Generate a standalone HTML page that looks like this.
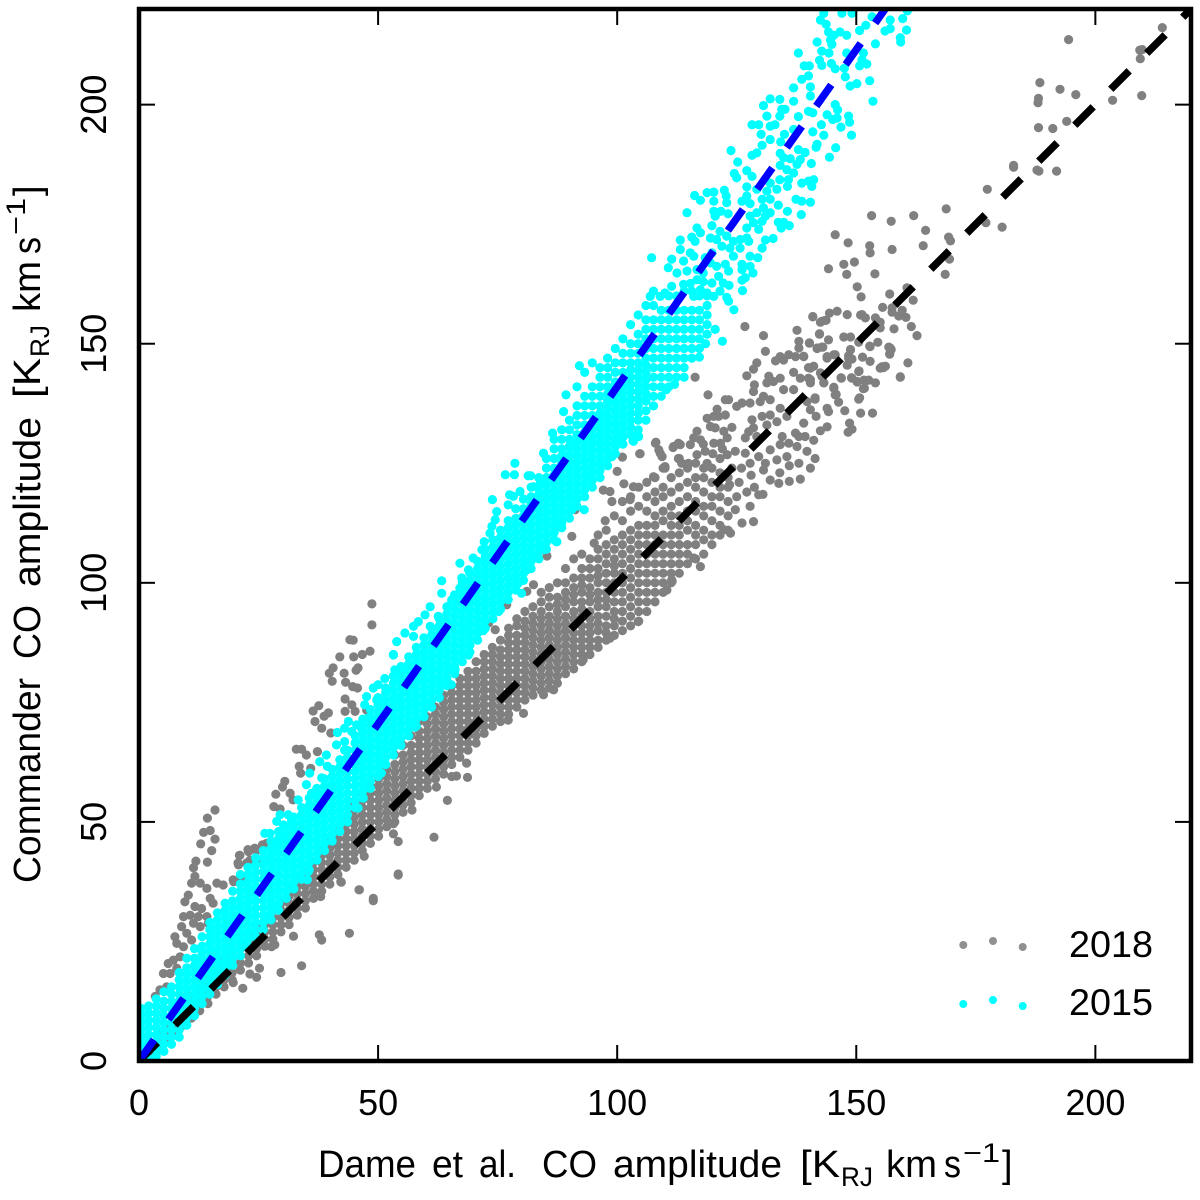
<!DOCTYPE html>
<html lang="en">
<head>
<meta charset="utf-8">
<title>Commander vs Dame CO amplitude</title>
<style>
html,body{margin:0;padding:0;background:#fff;}
svg{display:block;font-family:"Liberation Sans","DejaVu Sans",sans-serif;fill:#000;}
</style>
</head>
<body>
<svg id="chart" width="1200" height="1200" viewBox="0 0 1200 1200" xmlns="http://www.w3.org/2000/svg">
  <defs><clipPath id="plot-clip"><rect x="139" y="9" width="1052" height="1052"/></clipPath></defs>
  <g id="points-layer" clip-path="url(#plot-clip)"></g>
  <g id="lines-layer" clip-path="url(#plot-clip)"></g>
  <g id="ticks-layer"></g>
  <rect x="139" y="9" width="1052" height="1052" fill="none" stroke="#000" stroke-width="4.5"/>
  <g>
    <g>
      <circle cx="963.3" cy="945" r="4" fill="#909090"/><circle cx="993" cy="941" r="4" fill="#909090"/><circle cx="1022.7" cy="947" r="4" fill="#909090"/>
      <text x="1069" y="957" font-size="37" textLength="84" lengthAdjust="spacingAndGlyphs">2018</text>
    </g>
    <g>
      <circle cx="963.3" cy="1004" r="4" fill="#00ffff"/><circle cx="993" cy="1000" r="4" fill="#00ffff"/><circle cx="1022.7" cy="1006" r="4" fill="#00ffff"/>
      <text x="1069" y="1015" font-size="37" textLength="84" lengthAdjust="spacingAndGlyphs">2015</text>
    </g>
  </g>
  <text y="1177" font-size="38"><tspan x="318" textLength="98" lengthAdjust="spacingAndGlyphs">Dame</tspan><tspan x="432" textLength="31" lengthAdjust="spacingAndGlyphs">et</tspan><tspan x="479" textLength="37" lengthAdjust="spacingAndGlyphs">al.</tspan><tspan x="542" textLength="55" lengthAdjust="spacingAndGlyphs">CO</tspan><tspan x="613" textLength="169" lengthAdjust="spacingAndGlyphs">amplitude</tspan><tspan x="800" textLength="40" lengthAdjust="spacingAndGlyphs">[K</tspan><tspan x="841" y="1186" font-size="27" textLength="32" lengthAdjust="spacingAndGlyphs">RJ</tspan><tspan x="886" y="1177" textLength="51" lengthAdjust="spacingAndGlyphs">km</tspan><tspan x="944" textLength="17" lengthAdjust="spacingAndGlyphs">s</tspan><tspan x="963" y="1162" font-size="27" textLength="37" lengthAdjust="spacingAndGlyphs">−1</tspan><tspan x="1002" y="1177">]</tspan></text>
  <g transform="translate(40,885)">
    <text transform="rotate(-90)" y="0" font-size="38"><tspan x="2" textLength="205" lengthAdjust="spacingAndGlyphs">Commander</tspan><tspan x="226" textLength="54" lengthAdjust="spacingAndGlyphs">CO</tspan><tspan x="298" textLength="170" lengthAdjust="spacingAndGlyphs">amplitude</tspan><tspan x="487" textLength="40" lengthAdjust="spacingAndGlyphs">[K</tspan><tspan x="528" y="9" font-size="27" textLength="32" lengthAdjust="spacingAndGlyphs">RJ</tspan><tspan x="573" y="0" textLength="51" lengthAdjust="spacingAndGlyphs">km</tspan><tspan x="631" textLength="17" lengthAdjust="spacingAndGlyphs">s</tspan><tspan x="650" y="-15" font-size="27" textLength="37" lengthAdjust="spacingAndGlyphs">−1</tspan><tspan x="689" y="0">]</tspan></text>
  </g>
</svg>
<script>
const xDomain = [0, 220];
const yDomain = [0, 220];
const xTickValues = [0, 50, 100, 150, 200];
const yTickValues = [0, 50, 100, 150, 200];
const lineX = [0, 220];
const line2018Y = [0, 220];
const line2015Y = [0, 310.2];
// Each row: x value, then the y values read at that x.
const points2018 = [
[2.5,1,2.5],[4.2,2.5,4,5.5],[5.9,4,5.5,7],[7.6,5.5,7,8.5,10],[9.3,7.5,9,10.5,12],[11,9,10.5,12,13.5],[12.7,10.5,12,13.5,15],[14.4,12,13.5,15,16.5,18],[16.1,14,15.5,17,18.5,20],[17.8,15.5,17,18.5,20,21.5],[19.5,17,18.5,20,21.5,23],[21.2,19,20.5,22,23.5,25],[22.9,20.5,22,23.5,25,26.5],[24.6,22,23.5,25,26.5,28],[26.3,24,25.5,27,28.5,30],[28,25.5,27,28.5,30,31.5],[29.7,27,28.5,30,31.5,33],[31.4,28.5,30,31.5,33,34.5,36],[33.1,30.5,32,33.5,35,36.5,38],[34.8,32,33.5,35,36.5,38,39.5],[36.5,34,35.5,37,38.5,40,41.5],[38.2,35.5,37,38.5,40,41.5,43,44.5],[39.9,37,38.5,40,41.5,43,44.5,46],[41.6,39,40.5,42,43.5,45,46.5,48],[43.3,40.5,42,43.5,45,46.5,48,49.5,51],[45,42,43.5,45,46.5,48,49.5,51,52.5,54],[46.7,44,45.5,47,48.5,50,51.5,53,54.5,56],[48.4,45.5,47,48.5,50,51.5,53,54.5,56,57.5],
[50.1,47,48.5,50,51.5,53,54.5,56,57.5,59,61],[51.8,49,50.5,52,53.5,55,56.5,58,59.5,61],[53.5,50,51.5,53,54.5,56,57.5,59,60.5,62,64],[55.2,52,53.5,55,56.5,58,59.5,61,62.5,64,66],[56.9,54,55.5,57,58.5,60,61.5,63,64.5,66,68],[58.6,55.5,57,58.5,60,61.5,63,64.5,66,67.5,69,71],[60.3,57,58.5,60,61.5,63,64.5,66,67.5,69,70.5,72],[62,59,60.5,62,63.5,65,66.5,68,69.5,71,72.5,74],[63.7,60,61.5,63,64.5,66,67.5,69,70.5,72,73.5,75,76.5],[65.4,62,63.5,65,66.5,68,69.5,71,72.5,74,75.5,77,78.5],[67.1,63.5,65,66.5,68,69.5,71,72.5,74,75.5,77,78.5,80],[68.8,65,66.5,68,69.5,71,72.5,74,75.5,77,78.5,80,81.5],[70.5,66.5,68,69.5,71,72.5,74,75.5,77,78.5,80,81.5,83.5],[72.2,68.5,70,71.5,73,74.5,76,77.5,79,80.5,82,83.5,85],[73.9,70,71.5,73,74.5,76,77.5,79,80.5,82,83.5,85,86.5],[75.6,71,72.5,74,75.5,77,78.5,80,81.5,83,84.5,86,88],[77.3,72.5,74,75.5,77,78.5,80,81.5,83,84.5,86,87.5,89,90.5],[79,74,75.5,77,78.5,80,81.5,83,84.5,86,87.5,89,91,92.5],[80.7,75.5,77,78.5,80,81.5,83,84.5,86,87.5,89,90.5,92,94],[82.4,76.5,78,79.5,81,82.5,84,85.5,87,88.5,90,91.5,93,95],[84.1,77.5,79,80.5,82,83.5,85,86.5,88,89.5,91,92.5,94,96,98],[85.8,78,79.5,81,82.5,84,85.5,87,88.5,90,91.5,93,95,97,99],
[87.5,79,80.5,82,83.5,85,86.5,88,89.5,91,92.5,94,95.5,97,100],[89.2,81,82.5,84,85.5,87,88.5,90,91.5,93,95,96.5,98,100,103],[90.9,82,83.5,85,86.5,88,89.5,91,92.5,94,96,97.5,99,101,105],[92.6,83.5,85,86.5,88,89.5,91,93,94.5,96,98,99.5,101,103,106],[94.3,85,86.5,88,89.5,91,92.5,94,96,97.5,99,101,103,105],[96,86.5,88,90,91.5,93,95,96.5,98,100,101.5,103,105,107,110],[97.7,88,89.5,91,93,95,96.5,98,100,102,104,106,108,111],[99.4,89,91,92.5,94,96,98,100,102,103.5,105,107,109,114],[101.1,90,92,94,96,98,100,102,104,106,108,110,113,117],[102.8,91,93,95,97,99,101,103,105,107,109,111,115,118],[104.5,92,94,96,98,100,102,104,106,108,110,112,116,120],[106.2,94,96,98,100,102,104,106,108,110,112,115,118,121],[107.9,96,98,100,102,104,106,108,110,112,114,117,119,122],[109.6,98,100,102,104,106,108,110,113,115,118,120,124],[111.3,100,102,104,106,108,110,112,114,116,119,122],[113,102,104,106,108,110,112,114,117,120,123,126],[114.7,104,106,108,111,113,115,118,121,124],[116.4,105,108,110,112,115,117,120,122,125],[118.1,106,109,111,114,116,119,122,124],[119.8,108,110,113,116,118,121,124],[121.5,110,112,115,118,120,123],[123.2,111,114,117,120,122],
[15.9,52.5],[14.3,50.8],[13.5,47.8],[14.9,48.2],[12.9,45.4],[15.9,46.4],[15.2,44],[11.9,41.8],[14.3,41.6],[11.4,40.4],[11.7,38.6],[11,37.2],[12.8,37.2],[14.2,36.1],[16.3,37.2],[17.6,36.8],[10.3,34.7],[9.6,33.3],[14.9,34],[15.5,33],[11.7,32.3],[13.1,31.9],[9.3,30.2],[10.7,30.5],[12.4,30.2],[14.2,30.2],[8.9,28.1],[11.4,28.8],[12.8,28.1],[14.5,28.8],[7.5,26],[10,26.7],[7.9,24.6],[9.3,23.9],[11,25.3],[6.1,20.4],[7.2,21.1],[8.6,21.8],[5.1,18.3],[6.5,18.3],[7.9,19.4],[3.4,13.5],[4.4,14.9],[5.8,15.5],
[21.1,43],[22.9,43.8],[24.6,44],[26.7,45.5],[22.5,41.4],[20.8,41],[27.4,42.4],[25.3,41.4],[19.7,37.9],[21.5,38.2],
[44,26.7],[37.7,26.4],[38.2,25.3],[49,33.5],[46,35.8],[42.3,37.4],[38,34.4],[32.3,26.1],[34,19.9],[29.7,18.5],[24.6,17.5],[25.2,19.4],[23.2,18.2],[21.7,15.2],[19.7,16.4],[27.7,23.9],[28.4,24.3],[54.2,38.9],
[48.7,95.6],[48.7,91.2],[44.1,88.1],[44.8,88],[46.7,85],[42,84.5],[40.6,82.2],
[44.9,84.5],[48.3,85.7],[45.8,82.2],[45.4,81.7],[39.8,81.1],[42.9,81.1],[40.4,79.4],[43.2,79.2],[44.7,78.3],[45.7,78],[43.1,75.7],[44.5,74.5],[37.6,74.3],[36.4,73.2],[43.1,73.1],[45.2,73.1],[47.6,73.4],[39.6,72.8],[38.7,72.1],[36.8,71],[38.2,69.6],[40.1,68.6],[32.9,65.2],[34,65.2],[35,64],[37.3,64.7],[33.5,61.6],[35.9,61.2],[33.8,60.2],[30.5,58.5],[30,57.3],[28.6,55.8],[31.6,56],[32.2,54.6],[28.2,53.2],[29.5,52.7],[24.2,44.5],[22.8,44.2],[21,43],[25.8,45.2],[23.2,42],[20.7,41.4],[19.8,37.5],
[53.2,49.6],[53.2,47.5],[54.2,45.9],[61.7,46.8],[64.5,54.5],[65.4,59.5],[66.4,59.6],[68.7,59.3],[68.5,62.3],[62.2,57.3],[57.1,52.5],[47.1,42.8],[54.2,39.1],[46.1,35.8],[42.2,37.5],[49,34],
[90.5,109.7],[85.3,105.6],[82.5,99.6],[81.1,98.2],[76.9,95.4],[73.1,91.6],[74.5,90.2],[97.1,119.4],[98.5,119.1],[100,123.3],[101.4,120.7],[101.1,126.3],[104.7,127],[98.9,117],[95.2,108.3],[97.5,113],[88,111.8],[91.2,115.3],[111.8,128.5],[112.8,129.2],[108,129.2],[109,127.1],[110,124.3],[107.6,122.2],[103.4,120.1],[102.7,117.4],[86.7,77.6],[92.9,83.9],[98.5,88.4],[104.4,91.9],[111.4,100.6],[110.4,98.5],[84.6,76.6],[80.4,72.7],[77.2,71.3],
[126.7,153.6],[130.6,151.7],[131,148.4],[137.6,152.8],[138,150.5],[138,149.1],[140.9,155.7],[142.3,152],[140.2,150.1],[141.8,149.1],[142.8,149.3],[144.2,150.8],[144.4,156.4],[146,156.8],[142.8,154.7],[143.7,154.9],[148.1,156.1],[151.2,156.1],[154,155.4],[147.4,151.4],[148.8,151.4],[143.9,147.3],[145.6,147.7],[148.8,148.7],[148.4,147],[151.3,147.2],[152.9,149.4],[154.5,150.3],[152.9,146.3],[157.1,149.1],[157,147.9],[160.8,146],[155.7,145],[155,144.9],[159.2,143],[150.5,144.2],[149.1,142.8],[150.2,142.1],[151.9,142.2],[154,141.8],[151.7,140.7],[140.4,144.9],[141.1,145.3],[146.9,142.8],[143.2,141.8],[142.8,143.2],[145.3,140.7],[145.6,139.3],[146.3,137.8],[150.5,138.4],[147.6,136],[150.9,135.5],[153.4,135.5],[144.2,135.8],[143.9,136.5],[148.6,133.4],[149.1,132.1],[148.3,131.5],[143.9,132.6],[142.5,131.8],[141.6,134.8],[140.4,136.2],[141.4,138.4],[139.7,137.9],
[134.1,147.3],[135.9,147.7],[137.3,147.3],[139,147.3],[133.1,146.4],[134.8,146.6],[129.2,146],[128.5,144.7],[127.1,143.3],[136.9,144],[138.3,142.8],[140,142.8],[140.4,141.8],[131.7,143.2],[134.1,142.8],[131.3,141.8],[132.7,142.1],[134.8,140.4],[136.9,140.4],[128.7,141.4],[128.5,140],[130.6,139],[132,138.3],[129.9,137.9],[127.8,137.6],[126.1,137.6],[125,136.9],[122.6,138.3],[123.3,138.3],[120.9,136.3],[122.6,135.1],[118.8,134.4],[120.2,134.8],[121.2,134.8],[119.5,132.7],[120.5,132.4],[134.1,136.5],[132,135.1],[135.5,134.8],[130.3,134.8],[128.2,134.1],[133.4,133.7],[131.3,133],[128.5,132.4],[124,132.5],[122.3,131.7],[126.8,130.3],[127.5,131.6],[129.2,130.6],[139,133.4],[137.3,131.3],[139.3,130.6],[141.1,129.8],[138,130.6],[134.5,130.6],[116.7,131.7],[116,130.3],[117.4,129.9],[120.2,129.2],[123,130.3],[121.6,129.2],[113.2,128.9],[111.7,128.3],[108.1,129.4],[108.7,127.8],[109.4,126.4],[115.3,128.9],[104.8,127],[116.3,143],[119,139.3],
[110,124],[112.8,126],[113.5,125],[114.9,125],[116.7,126.8],[118.4,127.5],[118.8,125],[123,126.8],[124.7,127.5],[126.8,127.1],[127.8,125],[129.6,126.4],[132,127.8],[134.1,128.9],[135.9,129.2],[137.6,128.5],[139.7,127.5],[141.4,126],[140.4,124],[138,125],[135.5,126.4],[133.4,125.7],[130.6,123.6],[132,121.5],[133.8,120.8],[136,121.2],[138.3,121.7],[129.6,118.4],[127.8,116],[127.1,119],[128.5,112.8],[126.1,112.5],[123.7,110.4],[124.7,115.3],[122.3,111.1],[117.4,103.4],[116,105.2],[111.5,100.3],[125.5,121],[125,118],[128,122.5],[123.5,120.5],[126,124],[128.7,120],[130.5,118.5],[124,124],[121.5,126],[131,125],[136,124.5],[134,123],[120,127],[118,129],[122,128],
[194.4,213.6],[214,216.1],[209.3,211.4],[209.8,211.5],[209.4,209.6],[188.4,204.6],[192.6,203.2],[195.9,202.1],[188.1,201.3],[188,200.4],[203.6,200.9],[209.7,201.9],[194,196.5],[188.1,195.2],[191.1,195],[182.9,187.3],[182.9,186.9],[187.8,186.3],[188.2,186.1],[191.9,186.1],[177.4,182.3],[177.1,175.3],[180.5,174.4],[168.8,178.2],[162,176.8],[153.2,176.8],[157.3,175.6],[164.5,173.7],[145.6,172.8],[148.3,171.1],[152.8,170.5],[152.9,169],[157.5,169.7],[164,170.5],[169.3,172.3],[169.7,171.5],[169.5,167.7],[168.6,164.5],[144.2,165.7],[147.4,166.6],[149.6,167.1],[148,164.5],[153.9,164.6],[150.2,161.9],[151,159.8],[157,160.4],[160.6,161.7],[161.9,159.1],[155.5,157.6],[157.5,157.5],[157.5,156.6],[159.6,157],[158.9,155.8],[160.4,155.5],[140.9,155.6],[150.9,156],[151.9,155.4],[155,154.5],[143.5,154.9],[142.5,154.5],[161.5,153.6],[157.9,153.1],[155,153.3],[162.7,151.7],[142.3,152.1],[140.2,150.2],[152.8,149.5],[150.5,150.3],[156.8,149.3],[157.3,148.8],[157,147.8],[148.8,148.8],[141.8,149],[143,149.3],[139,147.4],[145.3,147.7],[143.9,147],[148.4,147.5],[149.1,146.8],[140,145],[148.1,145.5],[155.4,145.2],[156.1,145.3],[150.6,144.3],[142.5,143.9],[159.2,143.1],[146.8,142.9],[149,142.9],[140.4,142.5],[150.2,142],[151.6,142.4],[152.6,142.4],[143.2,141.8],[145.3,140.9],[151.5,140.6],[145.8,139.4],[150.7,138.7],[141.4,138.7]
];
const points2015 = [
[0.4,0.5,2,3.5,5,6.5,8,9.5,11],[2,0.5,2.5,4,5.5,7,8.5,10,11.5],[3.6,1,2.5,4,5.5,7,8.5,10,11.5,13],[5.2,2,3.5,5,6.5,8,9.5,11,12.5,14.5],[6.8,3.5,5,6.5,8,9.5,11,12.5,14,15.5],[8.4,5,6.5,8,9.5,11,12.5,14,15.5,17,18.5],[10,7.5,9,10.5,12,13.5,15,16.5,18,19.5,21.5],[11.6,9.5,11,12.5,14,15.5,17,18.5,20,21.5,23.5],[13.2,12,13.5,15,16.5,18,19.5,21,22.5,24,26],[14.8,14,15.5,17,18.5,20,21.5,23,24.5,26,27.5,29],[16.4,16,17.5,19,20.5,22,23.5,25,26.5,28,29.5,31],[18,18,19.5,21,22.5,24,25.5,27,28.5,30,31.5,33],[19.6,20,21.5,23,24.5,26,27.5,29,30.5,32,33.5,35.5],
[21.2,22,23.5,25,26.5,28,29.5,31,32.5,34,35.5,37,39],[22.8,24,25.5,27,28.5,30,31.5,33,34.5,36,37.5,39,40.5],[24.4,26,27.5,29,30.5,32,33.5,35,36.5,38,39.5,41,42.5],[26,27.5,29,30.5,32,33.5,35,36.5,38,39.5,41,42.5,44],[27.6,29.5,31,32.5,34,35.5,37,38.5,40,41.5,43,44.5,46],[29.2,31.5,33,34.5,36,37.5,39,40.5,42,43.5,45,46.5,48],[30.8,34,35.5,37,38.5,40,41.5,43,44.5,46,47.5,49],[32.4,36,37.5,39,40.5,42,43.5,45,46.5,48,49.5,51],[34,38,39.5,41,42.5,44,45.5,47,48.5,50,51.5,53],[35.6,40,41.5,43,44.5,46,47.5,49,50.5,52,53.5,55],[37.2,42,43.5,45,46.5,48,49.5,51,52.5,54,55.5,57],[38.8,44,45.5,47,48.5,50,51.5,53,54.5,56,57.5,59],[40.4,46,47.5,49,50.5,52,53.5,55,56.5,58,59.5,61],[42,48,49.5,51,52.5,54,55.5,57,58.5,60,61.5,63],[43.6,50,51.5,53,54.5,56,57.5,59,60.5,62,63.5,65],[45.2,53,54.5,56,57.5,59,60.5,62,63.5,65,66.5,68],[46.8,55,56.5,58,59.5,61,62.5,64,65.5,67,68.5,70,71.5],[48.4,57,58.5,60,61.5,63,64.5,66,67.5,69,70.5,72,73.5],[50,59.5,61,62.5,64,65.5,67,68.5,70,71.5,73,74.5,76],[51.6,62,63.5,65,66.5,68,69.5,71,72.5,74,75.5,77,78],[53.2,64,65.5,67,68.5,70,71.5,73,74.5,76,77.5,79,80.5],[54.8,66,67.5,69,70.5,72,73.5,75,76.5,78,79.5,81,82.5],[56.4,68,69.5,71,72.5,74,75.5,77,78.5,80,81.5,83,84.5],[58,70,71.5,73,74.5,76,77.5,79,80.5,82,83.5,85,86.5],[59.6,72,73.5,75,76.5,78,79.5,81,82.5,84,85.5,87,88.5],
[61.2,74,75.5,77,78.5,80,81.5,83,84.5,86,87.5,89,90.5],[62.8,76,77.5,79,80.5,82,83.5,85,86.5,88,89.5,91,92.5],[64.4,78.5,80,81.5,83,84.5,86,87.5,89,90.5,92,93.5,95],[66,81,82.5,84,85.5,87,88.5,90,91.5,93,94.5,96,97.5],[67.6,83.5,85,86.5,88,89.5,91,92.5,94,95.5,97,98.5,100],[69.2,85.5,87,88.5,90,91.5,93,94.5,96,97.5,99,100.5,102],[70.8,88,89.5,91,92.5,94,95.5,97,98.5,100,101.5,103,104.5],[72.4,90.5,92,93.5,95,96.5,98,99.5,101,102.5,104,105.5,107],[74,92.5,94,95.5,97,98.5,100,101.5,103,104.5,106,107.5,109],[75.6,94.5,96,97.5,99,100.5,102,103.5,105,106.5,108,109.5,111],[77.2,96.5,98,99.5,101,102.5,104,105.5,107,108.5,110,111.5,113],[78.8,98.5,100,101.5,103,104.5,106,107.5,109,110.5,112,113.5,115.5],[80.4,100.5,102,103.5,105,106.5,108,109.5,111,112.5,114,115.5,117.5],[82,103,104.5,106,107.5,109,110.5,112,113.5,115,116.5,118,120],[83.6,105,106.5,108,109.5,111,112.5,114,115.5,117,118.5,120,122],[85.2,107,108.5,110,111.5,113,114.5,116,117.5,119,120.5,122,124,126],[86.8,109,110.5,112,113.5,115,116.5,118,119.5,121,122.5,124,126,128,130],[88.4,111.5,113,114.5,116,117.5,119,120.5,122,123.5,125,126.5,128,130,132],[90,113.5,115,116.5,118,119.5,121,122.5,124,125.5,127,128.5,130,132,134],[91.6,116,117.5,119,120.5,122,123.5,125,126.5,128,129.5,131,133,135,137,141],[93.2,118,119.5,121,122.5,124,125.5,127,128.5,130,131.5,133,135,137,139,144],[94.8,120,121.5,123,124.5,126,127.5,129,130.5,132,133.5,135,137,139,141,146],[96.4,122,123.5,125,126.5,128,129.5,131,132.5,134,135.5,137,139,141,143,145],[98,124.5,126,127.5,129,130.5,132,133.5,135,136.5,138,139.5,141,143,145,147],[99.6,127,128.5,130,131.5,133,134.5,136,137.5,139,140.5,142,144,146,149],[101.2,129,130.5,132,133.5,135,136.5,138,139.5,141,142.5,144,146,148,151],[102.8,131,132.5,134,135.5,137,138.5,140,141.5,143,144.5,146,148,150,154],[104.4,132,134,135.5,137,138.5,140,141.5,143,144.5,146,148,150,152,156],[106,134,136,138,139.5,141,142.5,144,145.5,147,149,151,153,155,158],[107.6,137,139,141,143,145,147,149,151,153,155,158,161],[109.2,139,141,143,145,147,149,151,153,155,157],[110.8,141,143,145,147,149,151,153,155,157,160],[112.4,143,145,147,149,151,153,155,157,160],[114,145,147,149,151,153,155,157,161],[115.6,147,149,151,153,155,157,161],[117.2,149,151,153,155,157,160],[118.8,152,154,156,158,160],
[53.2,85],[56,82.5],[53.5,81.8],[51.4,80],[50,78.7],[49,78],[47.6,76.2],[47.2,74.5],[49.7,75.5],[47.9,71.7],[43.8,71],[45.5,70.3],[43,69.6],[44.5,68.9],[46.5,69.6],[41.5,68.7],[43,66.8],[41.3,66.1],[43,65],[39.2,64],[37.8,62.6],[39.4,61.6],[35.7,60.2],[38.2,59.2],[35,57.8],[37.1,56.7],[33.3,54.6],[36.1,56],[29.5,51.5],[31.2,51.5],[28.8,50.1],[30.2,49.4],[31.9,50.4],[27.4,47.6],[26.3,47.6],[29.8,46.6],[28.1,44.9],[35.4,39.6],[35.2,37.9],[46.9,55],[45.8,52.9],[57.7,69.8],[65,78.8],[53.2,66.1],[50.7,60.2],
[78.6,125],[76.6,122.6],[78.5,122.6],[81.4,122.4],[81.9,122.4],[84.6,127.1],[86.5,131.3],[73.9,117.4],[74.8,114.9],[77.2,116.3],[74.5,113.2],[73.8,111.8],[73.4,110.4],[72.2,108.6],[71.7,106.9],[67.1,104.1],[69.9,105.2],[68.9,102.7],[63.3,100.4],[67.5,101],[67.1,98.9],[63.3,97.8],[65.4,96.4],[60.9,95],[59.8,93.3],[62.6,93],[58.4,91.9],[57.4,90.9],[55.6,89.5],[53.9,87.7],[53.2,84.9],[60.9,90.9],[57.4,88.8],[79.7,119.1],[78.3,118.1],[83.9,120.8],[82.5,120.1],[77.5,118.4],[93.1,115.3],[90.5,115.3],[87.4,108.6],[84.6,106.9],[83.3,105.6],[81.8,104.7],[81.1,102.7],[80,97.8],[79.3,99.9],[75.2,94],[72,90],[68.9,84.9],[66.1,81.8],[65.3,78.7],[88.4,112.5],[94.8,121.5],[98.9,126.4],[103.4,129.6],[100.6,129.9],[104.4,130.6],
[92.1,145.4],[89.3,139.3],[88.8,135.8],[87.3,108.6],[94.7,121.5],[104.5,130.6],[103.3,129.7],[100.8,130.3],[110.3,140.4],[117.2,147.2],[124.4,157.1],[123.3,158.9],[120.5,153],[122,150.5],[118.5,150],[114,143],[112,141.5],
[143.2,219.1],[147,219.1],[149.1,219.1],[142.5,217.7],[143.7,216.8],[144.2,215.2],[145.3,214.5],[146.6,215.2],[148,214.5],[144.6,213.5],[141.8,213.1],[144.9,212.6],[142.8,211.2],[144.3,210.8],[137.9,210.8],[148,210.8],[151.5,210.8],[154,212.7],[150.7,215.5],[152,216.6],[153.3,218.4],[157.1,217.7],[159.7,218],[160.7,219.6],[156,215.4],[157.1,215.9],[160.5,215.6],[159.2,214],[159.3,213.1],
[142.3,209.3],[142.8,208.2],[139.1,208.1],[140.2,208.1],[144.8,208.6],[145.6,207.5],[147.5,207.6],[150.7,208.1],[152.2,208.5],[151.2,209.4],[147.7,205.8],[152.8,205],[150.1,204.4],[148.7,203.9],[153.5,200.7],[138.6,205.3],[140,206],[136.9,203.5],[140.4,203.7],[140.4,201.8],[132,201.2],[134,201.1],[136.9,200.7],[130.6,199.8],[134.4,199],[135.1,199],[131.3,197.6],[134,197.6],[133,195.8],[128.2,195.8],[129.6,195.8],[132,195.5],[137.9,197.5],[140,198.6],[140.9,198.3],[145.6,200],[146.1,198.9],[143.9,197.9],[145.1,196.9],[146,197.2],[148.4,197.6],[148.6,196.3],[146.8,195.3],[142.7,195.8],[149,193.6],
[136.9,194.8],[140.9,194.3],[143.2,193.6],[130.1,193.8],[135,193.8],[132,192.7],[134.2,192.2],[130.3,191.5],[141.8,191.7],[141.6,191.1],[145.7,191],[144.4,189],[123.8,190.4],[128.2,189.4],[129.2,189.9],[134.1,189.8],[134.8,188.9],[137.9,190.6],[139.3,190],[136.2,188.7],[138.3,188.5],[125.2,188],[140.6,187.7],[137.6,187.5],[134.1,187.3],[135.5,186.4],[127.1,186.2],[124.5,185.6],[125,184.7],[128.2,185],[136.9,185.7],[134,184.3],[135.8,184.3],[138.6,183.6],[141.1,184.3],[140,184],[140.7,182.9],[135.6,182.9],[127.1,182.8],[132,183.6],[133.4,182.3],[129.2,182.3],[131.3,181.9],
[116.2,181],[118.8,181.6],[120.2,181.7],[122.4,182.1],[117.4,180],[120.2,179.8],[122.8,180.9],[122.9,179.5],[127.1,180.9],[126.1,179.8],[127.8,179.3],[130.3,180.2],[132,180.2],[133.7,179],[137.4,180.2],[138.6,179.8],[140.4,179.6],[135.6,177.7],[138.5,177],[114.6,177.4],[120.2,177.7],[121.7,177.7],[123.2,177.2],[130.6,178.4],[129.2,177.4],[132,177.4],[119.8,174.7],[120.5,176.7],[127.8,176.7],[131,176.7],[128.5,175.3],[130.3,175.6],[133.7,175.4],[134.8,175.4],[136,174.7],[134.3,174.2],[127.1,174.2],[129.6,173.9],
[116.7,174.2],[115.6,172.3],[117.4,173.2],[116.3,171.4],[113.2,171.7],[119.5,172.1],[121.5,173.5],[120.8,171.8],[122.9,172.5],[124.3,171.4],[125.7,171.8],[127.1,172.1],[131,171.7],[132.6,172],[130.3,170],[127.5,171.4],[121.9,170.4],[123.6,170],[125.7,170],[107.2,168],[113.2,169.7],[115.3,169],[116,168.3],[111.4,167.7],[113.9,167.3],[119.8,169],[118.4,168],[124.3,168.3],[127.8,168.3],[129.4,168],[110.7,165.9],[112.5,164.8],[114.6,165.2],[116.7,165.5],[118,164.8],[119.5,166.9],[120.8,166.2],[122.6,166.6],[123.3,165.2],[126.1,166.6],[126.1,165.5],[127.8,166.2],[128.4,164.8],[126.8,163.8],[126.1,163.3],[123.4,162.2],[121.5,161],[126.2,161.1],[122.9,159.7],[111.4,162],[110,160.6],[109,159.9],[106.9,159.9],[115.3,162.6],[113.9,162.4],[116.7,163.4],[118,163],[119.8,162.7],[121.2,164.1],[122.2,162.7],[117.4,161.3],[118.8,160.6],[120.2,159.9],[116,159.9]
];

const svgNS = 'http://www.w3.org/2000/svg';
const plotLeft = 139, plotRight = 1191, plotTop = 9, plotBottom = 1061;
function xScale(v) { return plotLeft + (v - xDomain[0]) / (xDomain[1] - xDomain[0]) * (plotRight - plotLeft); }
function yScale(v) { return plotBottom - (v - yDomain[0]) / (yDomain[1] - yDomain[0]) * (plotBottom - plotTop); }

const pointsLayer = document.getElementById('points-layer');
function drawPoint(x, y, color, year) {
  const c = document.createElementNS(svgNS, 'circle');
  c.setAttribute('cx', xScale(x).toFixed(1));
  c.setAttribute('cy', yScale(y).toFixed(1));
  c.setAttribute('r', '4.6');
  c.setAttribute('fill', color);
  
  
  pointsLayer.appendChild(c);
}
points2018.forEach(function (row) { row.slice(1).forEach(function (y) { drawPoint(row[0], y, '#808080', '2018'); }); });
points2015.forEach(function (row) { row.slice(1).forEach(function (y) { drawPoint(row[0], y, '#00ffff', '2015'); }); });

const linesLayer = document.getElementById('lines-layer');
function drawLine(ys, color, name) {
  const l = document.createElementNS(svgNS, 'line');
  l.setAttribute('x1', xScale(lineX[0]));
  l.setAttribute('y1', yScale(ys[0]));
  l.setAttribute('x2', xScale(lineX[1]));
  l.setAttribute('y2', yScale(ys[1]));
  l.setAttribute('stroke', color);
  l.setAttribute('stroke-width', '7.5');
  l.setAttribute('stroke-dasharray', '26 24.9');
  
  
  linesLayer.appendChild(l);
}
drawLine(line2018Y, '#000000', 'fit-line-2018');
drawLine(line2015Y, '#0000ff', 'fit-line-2015');

const ticksLayer = document.getElementById('ticks-layer');
function addTick(x1, y1, x2, y2, name) {
  const t = document.createElementNS(svgNS, 'line');
  t.setAttribute('x1', x1);
  t.setAttribute('y1', y1);
  t.setAttribute('x2', x2);
  t.setAttribute('y2', y2);
  t.setAttribute('stroke', '#000');
  t.setAttribute('stroke-width', '2');
  
  
  ticksLayer.appendChild(t);
}
const tickLength = 16;
xTickValues.forEach(function (v) {
  const x = xScale(v);
  addTick(x, plotBottom, x, plotBottom - tickLength, 'x-tick-mark');
  addTick(x, plotTop, x, plotTop + tickLength, 'x-tick-mark-top');
  const label = document.createElementNS(svgNS, 'text');
  label.setAttribute('x', x);
  label.setAttribute('y', 1115);
  label.setAttribute('font-size', '36');
  label.setAttribute('text-anchor', 'middle');
  
  
  label.textContent = v;
  ticksLayer.appendChild(label);
});
yTickValues.forEach(function (v) {
  const y = yScale(v);
  addTick(plotLeft, y, plotLeft + tickLength, y, 'y-tick-mark');
  addTick(plotRight, y, plotRight - tickLength, y, 'y-tick-mark-right');
  const label = document.createElementNS(svgNS, 'text');
  label.setAttribute('transform', 'translate(106,' + y + ') rotate(-90)');
  label.setAttribute('font-size', '36');
  label.setAttribute('text-anchor', 'middle');
  
  
  label.textContent = v;
  ticksLayer.appendChild(label);
});
</script>
</body>
</html>
